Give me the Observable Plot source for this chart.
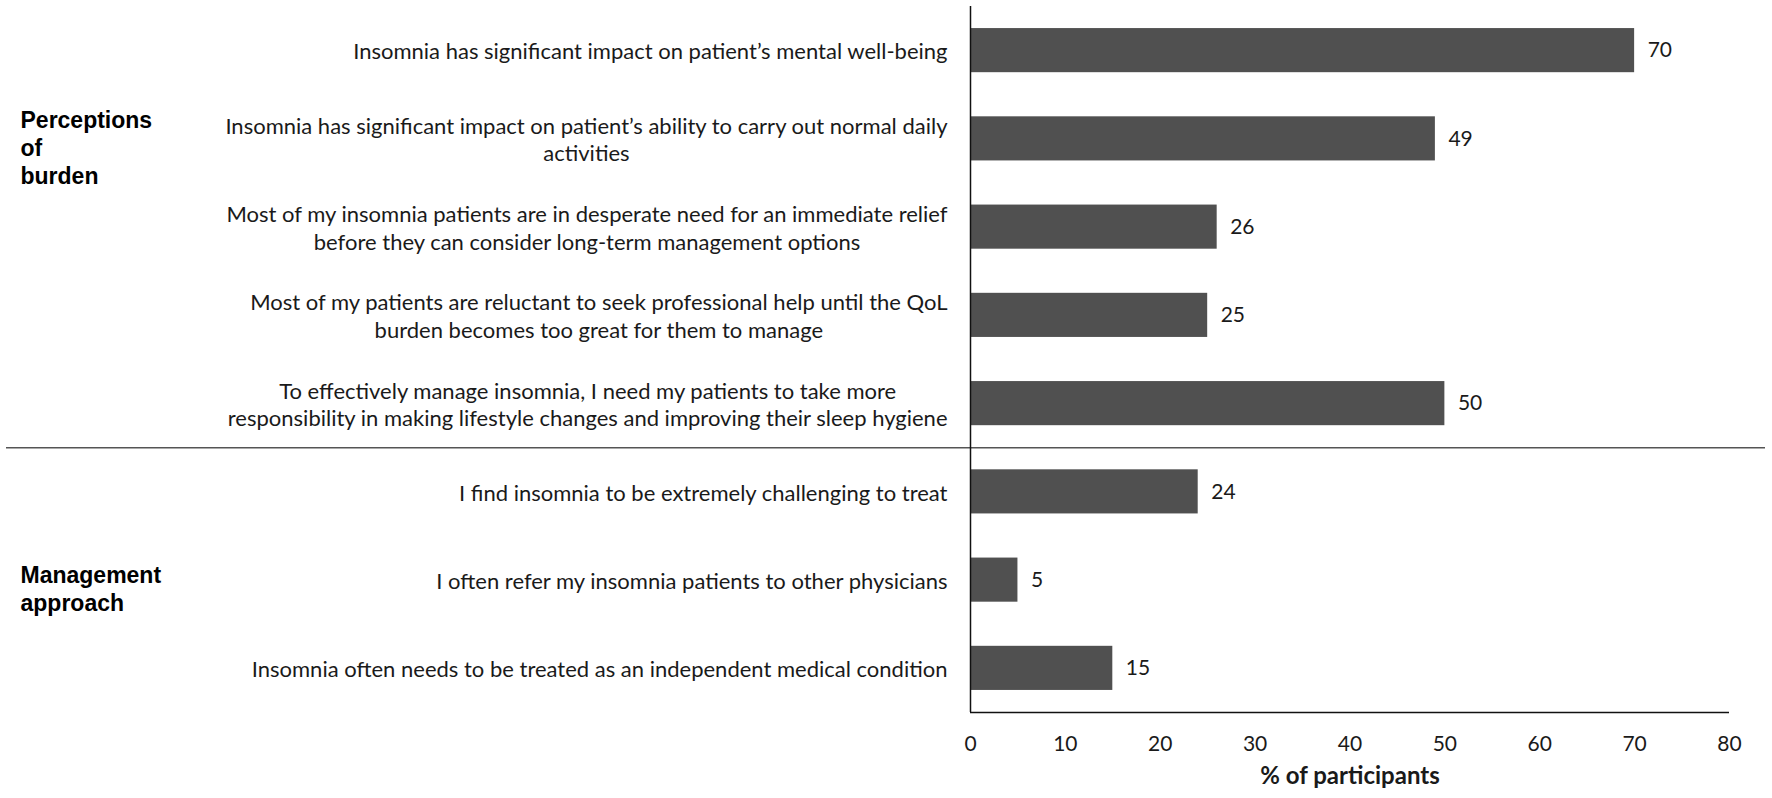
<!DOCTYPE html>
<html>
<head>
<meta charset="utf-8">
<script src="https://cdn.jsdelivr.net/npm/d3@7"></script>
<script src="https://cdn.jsdelivr.net/npm/@observablehq/plot@0.6"></script>
<style>
  html, body { margin: 0; padding: 0; background: #fff; }
  svg { display: block; }
</style>
</head>
<body>
<script>
// ---- data ----
const statements = [
  "Insomnia has significant impact on patient’s mental well-being",
  "Insomnia has significant impact on patient’s ability to carry out normal daily\nactivities",
  "Most of my insomnia patients are in desperate need for an immediate relief\nbefore they can consider long-term management options",
  "Most of my patients are reluctant to seek professional help until the QoL\nburden becomes too great for them to manage",
  "To effectively manage insomnia, I need my patients to take more\nresponsibility in making lifestyle changes and improving their sleep hygiene",
  "I find insomnia to be extremely challenging to treat",
  "I often refer my insomnia patients to other physicians",
  "Insomnia often needs to be treated as an independent medical condition"
];
const percents = [70, 49, 26, 25, 50, 24, 5, 15];
const groupNames = ["Perceptions\nof\nburden", "Management\napproach"];
const groupRow = [1, 6];          // row each group label sits beside
const groupBreak = 4.5;           // boundary between the two groups (row index)
const xTicks = [0, 10, 20, 30, 40, 50, 60, 70, 80];
const xTitle = "% of participants";

const rows = statements.map((s, i) => ({i, label: s, value: percents[i]}));
const groups = groupNames.map((g, k) => ({i: groupRow[k], label: g}));

const catFont = "Lato, 'Open Sans', sans-serif";
const boldFont = "'Liberation Sans', Arial, sans-serif";

const chart = Plot.plot({
  width: 1772,
  height: 798,
  marginLeft: 6,
  marginRight: 7,
  marginTop: 6,
  marginBottom: 86,
  style: {fontFamily: catFont, color: "#1a1a1a", background: "#fff"},
  x: {domain: [0, 80], range: [970, 1729]},
  y: {domain: [-0.5, statements.length - 0.5], reverse: true, axis: null},
  marks: [
    Plot.text(rows, {x: 0, y: "i", text: "label", textAnchor: "end", dx: -23, fontSize: 22, lineHeight: 1.25, fill: "#1a1a1a"}),
    Plot.rectX(rows, {x1: 0, x2: "value", y1: d => d.i - 0.25, y2: d => d.i + 0.25, fill: "#505050"}),
    Plot.text(rows, {x: "value", y: "i", text: d => String(d.value), textAnchor: "start", dx: 13, fontSize: 21, fill: "#1a1a1a"}),
    Plot.text(groups, {frameAnchor: "left", y: "i", text: "label", textAnchor: "start", dx: 14, dy: 8, fontSize: 23, fontWeight: "bold", fontFamily: boldFont, lineHeight: 1.22, fill: "#000"}),
    Plot.ruleY([groupBreak], {stroke: "#555", strokeWidth: 1.5}),
    Plot.ruleX([0], {y1: -0.5, y2: statements.length - 0.5, stroke: "#111", strokeWidth: 1.5}),
    Plot.ruleY([statements.length - 0.5], {x1: 0, x2: 80, stroke: "#111", strokeWidth: 1.5}),
    Plot.axisX({ticks: xTicks, tickSize: 0, tickPadding: 24, fontSize: 21, label: null, tickFormat: d => String(d)}),
    Plot.text([xTitle], {x: d3.mean(xTicks), frameAnchor: "bottom", dy: 71, fontSize: 24, fontWeight: "bold", fill: "#1a1a1a"})
  ]
});
document.body.append(chart);

// center the lines of each multi-line statement within its right-aligned block
const labelGroup = chart.querySelector('g[aria-label="text"]');
labelGroup.querySelectorAll("text").forEach(t => {
  const spans = Array.from(t.querySelectorAll("tspan"));
  if (spans.length < 2) return;
  const lens = spans.map(s => s.getComputedTextLength());
  const w = Math.max(...lens);
  spans.forEach((s, k) => s.setAttribute("x", -(w - lens[k]) / 2));
});
</script>
</body>
</html>
